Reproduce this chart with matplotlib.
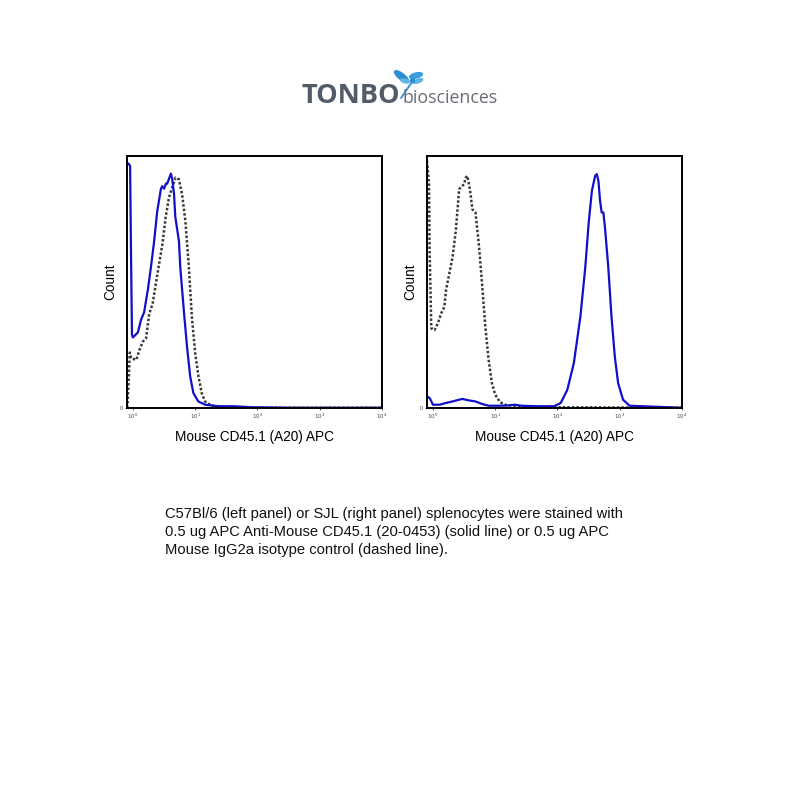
import numpy as np
import matplotlib
matplotlib.use("Agg")
import matplotlib.pyplot as plt
from matplotlib.patches import Ellipse

plt.rcParams['font.family'] = ['Liberation Sans', 'DejaVu Sans']

# ---- data (x as log10 fluorescence, y as relative count, % of max) ----
left_solid_logx = [-0.09, -0.07, -0.045, -0.03, -0.015, 0.0, 0.08, 0.13, 0.18, 0.24, 0.29,
                   0.34, 0.39, 0.45, 0.47, 0.50, 0.53, 0.55, 0.58, 0.61, 0.63, 0.66, 0.68,
                   0.74, 0.76, 0.82, 0.87, 0.92, 0.97, 1.05, 1.16, 1.37, 1.63, 1.90, 2.5, 4.0]
left_solid_count = [97, 97, 96, 60, 29, 28, 30, 35, 38, 47, 56,
                    66, 78, 87, 88, 87, 89, 89, 91, 93, 91, 85, 76,
                    66, 56, 38, 24, 12.5, 6, 2.6, 1.3, 0.7, 0.7, 0.3, 0.1, 0.1]

left_dash_logx = [-0.09, -0.07, -0.05, -0.026, 0.053, 0.105, 0.158, 0.21, 0.263, 0.316, 0.368,
                  0.421, 0.474, 0.526, 0.579, 0.632, 0.684, 0.737, 0.789, 0.842, 0.895,
                  0.947, 1.0, 1.053, 1.105, 1.158, 1.263, 1.474, 1.895, 4.0]
left_dash_count = [0, 10, 22, 19.7, 19.1, 23, 26.3, 27.6, 37.5, 41.4, 49.3,
                   57.2, 65.1, 75.7, 83.6, 87.5, 91.4, 90.8, 84.9, 74.3, 57.2,
                   36.2, 21.7, 12.5, 5.9, 2.6, 0.9, 0.4, 0.1, 0.1]

right_solid_logx = [-0.095, -0.05, 0.0, 0.105, 0.21, 0.316, 0.421, 0.474, 0.579, 0.684, 0.789,
                    0.895, 1.053, 1.21, 1.316, 1.421, 1.684, 1.947, 2.053, 2.158, 2.263,
                    2.368, 2.447, 2.5, 2.553, 2.605, 2.632, 2.658, 2.684, 2.71, 2.737,
                    2.763, 2.816, 2.868, 2.921, 2.974, 3.053, 3.158, 4.0]
right_solid_count = [4.6, 3.9, 1.3, 1.3, 2.0, 2.6, 3.3, 3.6, 3.0, 2.6, 1.6,
                     0.9, 0.9, 1.0, 1.3, 0.9, 0.7, 0.7, 2.0, 7.2, 17.8,
                     36.2, 55.9, 73.0, 86.2, 92.1, 92.8, 90.1, 82.2, 77.6, 77.6,
                     71.7, 55.9, 36.2, 20.4, 9.9, 3.3, 0.9, 0.1]

right_dash_logx = [-0.095, -0.063, -0.053, -0.026, 0.026, 0.079, 0.132, 0.184, 0.21, 0.263,
                   0.316, 0.368, 0.421, 0.474, 0.5, 0.526, 0.553, 0.579, 0.605, 0.632,
                   0.684, 0.737, 0.789, 0.842, 0.895, 0.947, 1.0, 1.079, 1.158, 1.368,
                   1.895, 4.0]
right_dash_count = [98, 89, 62.5, 31.6, 30.9, 33.6, 37.5, 40.1, 46.7, 53.3,
                    59.9, 70.4, 86.8, 88.2, 88.8, 91.4, 92.1, 88.8, 84.9, 78.9,
                    77.6, 65.1, 49.3, 32.2, 19.1, 9.9, 5.3, 2.3, 1.3, 0.7,
                    0.3, 0.1]

tick_exponents = [0, 1, 2, 3, 4]
x_label = "Mouse CD45.1 (A20) APC"
y_label = "Count"
caption_lines = [
    "C57Bl/6 (left panel) or SJL (right panel) splenocytes were stained with",
    "0.5 ug APC Anti-Mouse CD45.1 (20-0453) (solid line) or 0.5 ug APC",
    "Mouse IgG2a isotype control (dashed line).",
]

W, H = 800, 800
fig = plt.figure(figsize=(8, 8), dpi=100)
fig.patch.set_facecolor('white')


def px_axes(x0, y0, x1, y1):
    return fig.add_axes([x0 / W, 1 - y1 / H, (x1 - x0) / W, (y1 - y0) / H])


def panel(ax, sx, sy, dx, dy):
    ax.plot(10 ** np.array(dx), dy, color='#3a3a3a', lw=1.8, ls=(0, (1, 0.8)))
    ax.plot(10 ** np.array(sx), sy, color='#1010c8', lw=1.6)
    ax.set_xscale('log')
    ax.set_xlim(10 ** -0.095, 10 ** 4)
    ax.set_ylim(0, 100)
    ax.set_xticks([10 ** e for e in tick_exponents])
    ax.set_xticklabels([rf"$10^{{{e}}}$" for e in tick_exponents], fontsize=4, color='#444')
    ax.xaxis.set_minor_locator(matplotlib.ticker.NullLocator())
    ax.set_yticks([0])
    ax.set_yticklabels(['0'], fontsize=4, color='#444')
    ax.tick_params(length=1.5, width=0.5, pad=1.5)
    for s in ax.spines.values():
        s.set_linewidth(1.4)
    ax.set_xlabel(x_label, fontsize=9.8, labelpad=6)
    ax.set_ylabel(y_label, fontsize=9.8, labelpad=2)


axL = px_axes(127, 156, 382, 408)
panel(axL, left_solid_logx, left_solid_count, left_dash_logx, left_dash_count)
axR = px_axes(427, 156, 682, 408)
panel(axR, right_solid_logx, right_solid_count, right_dash_logx, right_dash_count)

# overlay for logo and caption, in pixel coordinates
ov = fig.add_axes([0, 0, 1, 1], zorder=-1)
ov.set_xlim(0, W)
ov.set_ylim(H, 0)
ov.axis('off')

ov.text(301, 103, "TONBO", fontsize=19.5, fontweight='bold', color='#525c68',
        ha='left', va='baseline', family=['Open Sans', 'DejaVu Sans'])
ov.text(403, 103, "biosciences", fontsize=12.8, color='#676b72',
        ha='left', va='baseline', family=['Open Sans', 'DejaVu Sans'])
# dragonfly
ov.plot([401, 412], [98, 82], color='#2c8fd2', lw=1.3, solid_capstyle='round')
ov.add_patch(Ellipse((401.5, 76.5), 17, 6, angle=38, color='#2c8fd2'))
ov.add_patch(Ellipse((416, 75.5), 13, 5, angle=-14, color='#3a9ddc'))
ov.add_patch(Ellipse((405, 81), 9, 3.5, angle=15, color='#62b4e8'))
ov.add_patch(Ellipse((418, 81), 10, 3.5, angle=-20, color='#62b4e8'))
ov.add_patch(Ellipse((412.5, 80.5), 4, 4, color='#2c8fd2'))

for i, line in enumerate(caption_lines):
    ov.text(165, 518 + i * 18, line, fontsize=10.6, color='#111', ha='left', va='baseline')

fig.savefig("out.png", dpi=100, facecolor='white')
